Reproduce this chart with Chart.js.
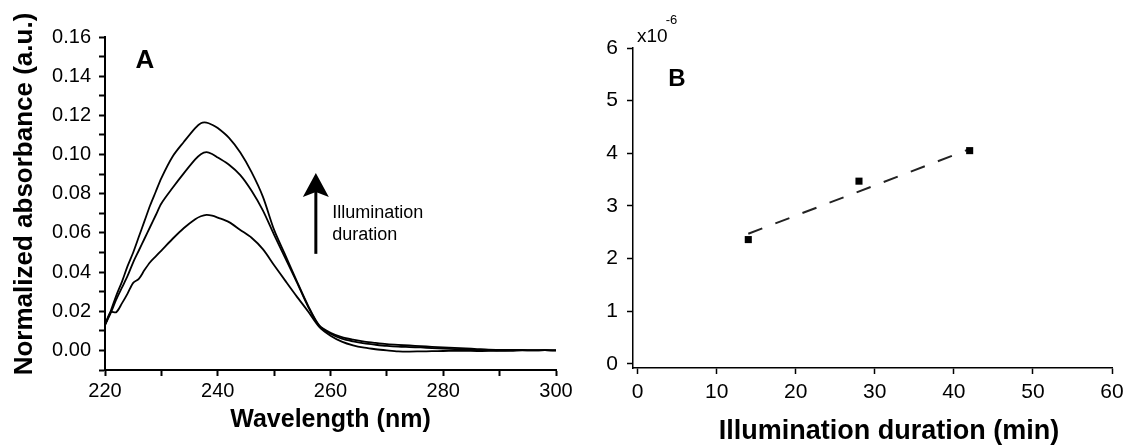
<!DOCTYPE html>
<html>
<head>
<meta charset="utf-8">
<script src="https://cdn.jsdelivr.net/npm/chart.js@4.4.1/dist/chart.umd.min.js"></script>
<style>
  html, body { margin: 0; padding: 0; background: #fff; }
  #wrap { position: relative; width: 1123px; height: 445px; }
  #panelA { position: absolute; left: 0; top: 0; }
  #panelB { position: absolute; left: 590px; top: 0; }
</style>
</head>
<body>
<div id="wrap">
  <canvas id="panelA" width="590" height="445"></canvas>
  <canvas id="panelB" width="533" height="445"></canvas>
</div>
<script>
// Panel A: absorbance spectra (three illumination times)
const wavelength = [220, 221, 222, 223, 224, 225, 226, 227, 228, 229, 230, 232, 234, 236, 237, 238, 239, 240,
  242, 244, 246, 248, 250, 252, 254, 256, 258, 260, 262, 264, 266, 268, 270, 272, 274, 276, 278, 280,
  282, 284, 286, 288, 290, 292, 294, 296, 298, 300];
const absLong = [0.013, 0.020, 0.028, 0.035, 0.043, 0.050, 0.058, 0.066, 0.074, 0.081, 0.088, 0.099, 0.1065, 0.1135, 0.1160, 0.1163, 0.1152, 0.1135,
  0.1085, 0.1010, 0.0910, 0.0785, 0.0615, 0.0485, 0.0355, 0.0230, 0.0128, 0.0090, 0.0068, 0.0055, 0.0045, 0.0038, 0.0032, 0.0028, 0.0025, 0.0022, 0.0018, 0.0015,
  0.0013, 0.0010, 0.0007, 0.0004, 0.0003, 0.0002, 0.0002, 0.0001, 0.0001, 0.0000];
const absMid = [0.013, 0.019, 0.026, 0.032, 0.038, 0.045, 0.051, 0.057, 0.063, 0.069, 0.075, 0.083, 0.0905, 0.0975, 0.1002, 0.1012, 0.1003, 0.0985,
  0.0948, 0.0895, 0.0815, 0.0715, 0.0590, 0.0470, 0.0350, 0.0225, 0.0126, 0.0085, 0.0060, 0.0046, 0.0036, 0.0029, 0.0023, 0.0019, 0.0017, 0.0015, 0.0012, 0.0009,
  0.0007, 0.0005, 0.0002, 0.0000, -0.0002, -0.0002, 0.0000, 0.0000, 0.0001, 0.0000];
const absShort = [0.013, 0.0195, 0.0195, 0.024, 0.029, 0.0345, 0.0365, 0.041, 0.045, 0.048, 0.051, 0.057, 0.0625, 0.067, 0.0685, 0.0692, 0.0688, 0.0678,
  0.0655, 0.0615, 0.0575, 0.0517, 0.0435, 0.0355, 0.0276, 0.0200, 0.0120, 0.0075, 0.0045, 0.0026, 0.0014, 0.0006, 0.0000, -0.0005, -0.0006, -0.0005, -0.0004, -0.0003,
  -0.0002, -0.0002, -0.0003, -0.0002, 0.0000, 0.0001, 0.0001, 0.0000, 0.0001, 0.0000];
const aXTicks = [220, 230, 240, 250, 260, 270, 280, 290, 300];
const aYTicks = [-0.01, 0.00, 0.01, 0.02, 0.03, 0.04, 0.05, 0.06, 0.07, 0.08, 0.09, 0.10, 0.11, 0.12, 0.13, 0.14, 0.15, 0.16];
// arrow "Illumination duration" in data units: [wavelength, from, to]
const arrowAt = [257.4, 0.0493, 0.0906];

// Panel B: rate vs illumination time (x10^-6)
const duration = [14, 28, 42];
const rate = [2.36, 3.47, 4.05];
const fitX = [14, 42];
const fitY = [2.47, 4.08];
const bXTicks = [0, 10, 20, 30, 40, 50, 60];
const bYTicks = [0, 1, 2, 3, 4, 5, 6];

const FONT = '"Liberation Sans", Arial, Helvetica, sans-serif';
Chart.defaults.font.family = FONT;
Chart.defaults.color = '#000';

function pts(xs, ys) {
  return xs.map((x, i) => ({ x: x, y: ys[i] }));
}

const annotate = {
  id: 'annotate',
  afterDraw(chart, args, opts) {
    const ctx = chart.ctx;
    const area = chart.chartArea;
    ctx.save();
    ctx.fillStyle = '#000';
    ctx.strokeStyle = '#000';
    ctx.textAlign = 'center';
    ctx.textBaseline = 'middle';
    ctx.font = 'bold ' + opts.letterSize + 'px ' + FONT;
    ctx.fillText(opts.letter, area.left + opts.letterDx, area.top + opts.letterDy);

    if (opts.yTitle) {
      // rotated axis title, centred a little above the plot middle as in the figure
      ctx.save();
      ctx.translate(25, 194);
      ctx.rotate(-Math.PI / 2);
      ctx.font = 'bold 26px ' + FONT;
      ctx.fillText(opts.yTitle, 0, 0);
      ctx.restore();
    }

    if (opts.xTitle) {
      ctx.font = 'bold 27px ' + FONT;
      ctx.fillText(opts.xTitle, area.left + opts.xTitleDx, 432);
    }

    if (opts.arrow) {
      const xs = chart.scales.x, ys = chart.scales.y;
      const ax = xs.getPixelForValue(arrowAt[0]);
      const y0 = ys.getPixelForValue(arrowAt[1]);
      const y1 = ys.getPixelForValue(arrowAt[2]);
      ctx.lineWidth = 3;
      ctx.beginPath();
      ctx.moveTo(ax, y0);
      ctx.lineTo(ax, y1 + 15);
      ctx.stroke();
      ctx.beginPath();
      ctx.moveTo(ax, y1);
      ctx.lineTo(ax + 13, y1 + 24);
      ctx.lineTo(ax, y1 + 19);
      ctx.lineTo(ax - 13, y1 + 24);
      ctx.closePath();
      ctx.fill();
      ctx.font = '18px ' + FONT;
      ctx.textAlign = 'left';
      const tx = xs.getPixelForValue(260.3);
      ctx.fillText('Illumination', tx, ys.getPixelForValue(0.0702));
      ctx.fillText('duration', tx, ys.getPixelForValue(0.0590));
    }

    if (opts.multiplier) {
      ctx.textAlign = 'left';
      ctx.textBaseline = 'alphabetic';
      ctx.font = '19px ' + FONT;
      const bx = area.left + 4;
      ctx.fillText('x10', bx, area.top - 6);
      const w = ctx.measureText('x10').width;
      ctx.font = '13px ' + FONT;
      ctx.fillText('-6', bx + w - 2, area.top - 24);
    }
    ctx.restore();
  }
};

function fixTicks(values) {
  return function (scale) {
    scale.ticks = values.map(v => ({ value: v }));
  };
}

// ---------- Panel A ----------
const lineStyle = { borderColor: '#000', borderWidth: 1.8, pointRadius: 0, tension: 0.3, fill: false };

new Chart(document.getElementById('panelA'), {
  type: 'line',
  data: {
    datasets: [
      Object.assign({ label: 'long', data: pts(wavelength, absLong) }, lineStyle),
      Object.assign({ label: 'mid', data: pts(wavelength, absMid) }, lineStyle),
      Object.assign({ label: 'short', data: pts(wavelength, absShort) }, lineStyle)
    ]
  },
  options: {
    responsive: false,
    devicePixelRatio: 1,
    animation: false,
    events: [],
    layout: { padding: { left: 0, top: 37, right: 34, bottom: 0 } },
    plugins: {
      legend: { display: false },
      tooltip: { enabled: false },
      annotate: { letter: 'A', letterSize: 26, letterDx: 40, letterDy: 24, arrow: true, yTitle: 'Normalized absorbance (a.u.)' }
    },
    scales: {
      x: {
        type: 'linear',
        min: 220,
        max: 300,
        afterBuildTicks: fixTicks(aXTicks),
        afterFit: s => { s.height = 75; },
        ticks: {
          autoSkip: false, maxRotation: 0, padding: 3, font: { size: 20 }, color: '#000',
          callback: v => ((v - 220) % 20 === 0 ? String(v) : '')
        },
        grid: { drawOnChartArea: false, drawTicks: true, tickLength: 6, tickWidth: 2, color: '#000' },
        border: { display: true, color: '#000', width: 2 },
        title: {
          display: true, text: 'Wavelength (nm)', color: '#000',
          font: { size: 25, weight: 'bold', lineHeight: 1 }, padding: { top: 0, bottom: 12 }
        }
      },
      y: {
        min: -0.01,
        max: 0.16,
        afterBuildTicks: fixTicks(aYTicks),
        afterFit: s => { s.width = 105; },
        ticks: {
          autoSkip: false, padding: 8, font: { size: 20 }, color: '#000',
          callback: v => (Math.round(v * 100) % 2 === 0 ? v.toFixed(2) : '')
        },
        grid: { drawOnChartArea: false, drawTicks: true, tickLength: 6, tickWidth: 2, color: '#000' },
        border: { display: true, color: '#000', width: 2 }
      }
    }
  },
  plugins: [annotate]
});

// ---------- Panel B ----------
new Chart(document.getElementById('panelB'), {
  type: 'scatter',
  data: {
    datasets: [
      {
        label: 'rate', data: pts(duration, rate), pointStyle: 'rect', pointRadius: 5,
        backgroundColor: '#000', borderWidth: 0, showLine: false
      },
      {
        label: 'fit', data: pts(fitX, fitY), showLine: true, borderColor: '#222',
        borderWidth: 2, borderDash: [15, 14], pointRadius: 0, fill: false
      }
    ]
  },
  options: {
    responsive: false,
    devicePixelRatio: 1,
    animation: false,
    events: [],
    layout: { padding: { left: 0, top: 48, right: 11, bottom: 0 } },
    plugins: {
      legend: { display: false },
      tooltip: { enabled: false },
      annotate: {
        letter: 'B', letterSize: 24, letterDx: 44, letterDy: 31, multiplier: true,
        xTitle: 'Illumination duration (min)', xTitleDx: 256
      }
    },
    scales: {
      x: {
        type: 'linear',
        min: -0.58,
        max: 60,
        afterBuildTicks: fixTicks(bXTicks),
        // let the "60" label run into the right margin, as in the figure
        afterFit: s => { s.height = 77; s.paddingRight = 0; },
        ticks: { autoSkip: false, maxRotation: 0, padding: 6, font: { size: 21 }, color: '#000' },
        grid: { drawOnChartArea: false, drawTicks: true, tickLength: 6, tickWidth: 1.5, color: '#000' },
        border: { display: true, color: '#000', width: 1.5 }
      },
      y: {
        min: -0.08,
        max: 6,
        afterBuildTicks: fixTicks(bYTicks),
        afterFit: s => { s.width = 43; },
        ticks: { autoSkip: false, padding: 9, font: { size: 21 }, color: '#000' },
        grid: { drawOnChartArea: false, drawTicks: true, tickLength: 6, tickWidth: 1.5, color: '#000' },
        border: { display: true, color: '#000', width: 1.5 }
      }
    }
  },
  plugins: [annotate]
});
</script>
</body>
</html>
